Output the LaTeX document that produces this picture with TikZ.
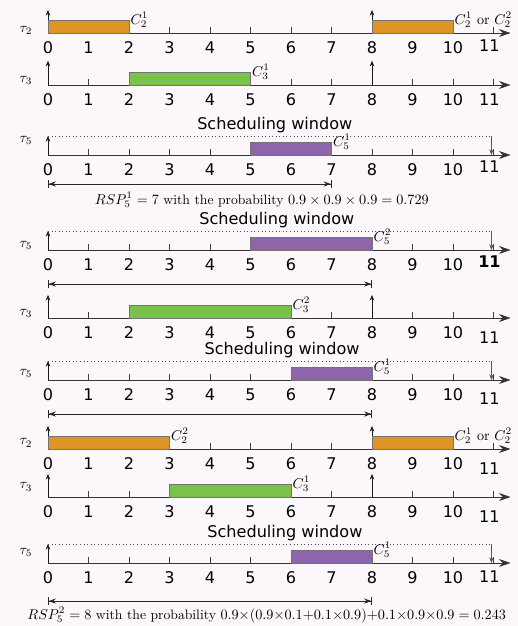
\documentclass[tikz,border=0pt]{standalone}
\usepackage{fontspec}
\newfontfamily\dejavu{DejaVu Sans}
\usetikzlibrary{arrows.meta,calc}

\definecolor{pagebg}{RGB}{252,247,251}
\definecolor{jobtwo}{RGB}{221,149,38}
\definecolor{jobthree}{RGB}{122,194,76}
\definecolor{jobfive}{RGB}{141,101,170}

\newcommand\axisfont{\fontsize{11.3}{13.6}\selectfont\dejavu}
\newcommand\mathfont{\fontsize{10}{12}\selectfont\rmfamily}
\newcommand\notefont{\fontsize{9.6}{11.5}\selectfont\rmfamily}

\tikzset{
  timeaxis/.style={-{Stealth[length=8pt,width=5.5pt]},black!80,line width=0.5pt},
  release/.style={-{Stealth[length=4pt,width=3.2pt]},black!90,line width=0.5pt},
  deadline/.style={-{Stealth[length=4pt,width=3.2pt]},black!65,line width=0.5pt},
  window/.style={dotted,black!70,line width=0.5pt},
  rsp/.style={{Bar[width=6pt]Stealth[length=5pt,width=3.6pt]}-{Stealth[length=5pt,width=3.6pt]Bar[width=6pt]},black!85,line width=0.5pt},
  job/.style={draw=black!55,line width=0.4pt},
  clabel/.style={anchor=west,inner sep=1pt,font=\mathfont},
}

\begin{document}
\begin{tikzpicture}[x=1cm,y=1cm,font=\axisfont]
  \fill[pagebg] (-1.185,0) rectangle (11.605,-15.457);
  \useasboundingbox (-1.185,0) rectangle (11.605,-15.457);

  % time lines
  \foreach \y/\row/\task/\dy/\dl/\ff in {-0.815/a/2/0.07/-0.05/\relax,-2.099/b/3/0.12/0/\relax,
      -3.827/c/5/0.37/-0.07/\relax,-6.173/d/5/0.12/-0.07/\bfseries,-7.852/e/3/0.12/0.12/\relax,
      -9.383/f/5/0.17/0.1/\relax,-11.086/g/2/0.15/0.12/\relax,-12.272/h/3/0.25/0.12/\relax,
      -13.901/i/5/0.25/-0.02/\relax}
  {
    \coordinate (\row-o) at (0,\y);
    \coordinate (\row-e) at (11.42,\y);
    \draw[timeaxis] (\row-o) -- (\row-e);
    \foreach \x in {1,...,11}
      \draw[black!75] (\x,\y) -- (\x,\y+0.14);
    \foreach \x in {0,...,10}
      \node[inner sep=1pt] (\row-n\x) at (\x,\y-0.36) {\x};
    \node[inner sep=1pt] (\row-n11) at (10.9,\y-0.36-\dl) {\ff 11};
    \node[anchor=east,inner sep=0pt,font=\mathfont] (\row-task) at (-0.38,\y+\dy) {$\tau_\task$};
  }

  % releases at 0 and 8
  \foreach \row/\h in {a/0.57,b/0.6,e/0.57,g/0.57,h/0.57}
    \foreach \x in {0,8}
      \draw[release] ($(\row-o)+(\x,0)$) -- ++(0,\h);

  % scheduling windows of tau_5
  \foreach \row/\sx in {c/5.6,d/5.65,f/5.78,i/5.85}
  {
    \coordinate (\row-w0) at ($(\row-o)+(0,0.47)$);
    \coordinate (\row-w1) at ($(\row-o)+(10.95,0.47)$);
    \coordinate (\row-dl) at ($(\row-o)+(10.95,0)$);
    \draw[release] (\row-o) -- (\row-w0);
    \draw[window] (\row-w0) -- (\row-w1);
    \draw[deadline] (\row-w1) -- (\row-dl);
    \node[anchor=south,inner sep=1pt] (\row-sw) at ($(\row-o)+(\sx,0.5)$) {Scheduling window};
  }

  % jobs
  \draw[job,fill=jobtwo] (a-o) rectangle ($(a-o)+(2,0.32)$) node[clabel] (a-c1) {$C_2^1$};
  \draw[job,fill=jobtwo] ($(a-o)+(8,0)$) rectangle ($(a-o)+(10,0.32)$) node[clabel] (a-c2) {$C_2^1$ or $C_2^2$};
  \draw[job,fill=jobthree] ($(b-o)+(2,0)$) rectangle ($(b-o)+(5,0.32)$) node[clabel] (b-c1) {$C_3^1$};
  \draw[job,fill=jobfive] ($(c-o)+(5,0)$) rectangle ($(c-o)+(7,0.32)$) node[clabel] (c-c1) {$C_5^1$};
  \draw[job,fill=jobfive] ($(d-o)+(5,0)$) rectangle ($(d-o)+(8,0.32)$) node[clabel] (d-c1) {$C_5^2$};
  \draw[job,fill=jobthree] ($(e-o)+(2,0)$) rectangle ($(e-o)+(6,0.32)$) node[clabel] (e-c1) {$C_3^2$};
  \draw[job,fill=jobfive] ($(f-o)+(6,0)$) rectangle ($(f-o)+(8,0.32)$) node[clabel] (f-c1) {$C_5^1$};
  \draw[job,fill=jobtwo] (g-o) rectangle ($(g-o)+(3,0.32)$) node[clabel] (g-c1) {$C_2^2$};
  \draw[job,fill=jobtwo] ($(g-o)+(8,0)$) rectangle ($(g-o)+(10,0.32)$) node[clabel] (g-c2) {$C_2^1$ or $C_2^2$};
  \draw[job,fill=jobthree] ($(h-o)+(3,0)$) rectangle ($(h-o)+(6,0.32)$) node[clabel] (h-c1) {$C_3^1$};
  \draw[job,fill=jobfive] ($(i-o)+(6,0)$) rectangle ($(i-o)+(8,0.32)$) node[clabel] (i-c1) {$C_5^1$};

  % response times
  \foreach \row/\dy/\t in {c/0.716/7,d/0.84/8,f/0.84/8,i/0.94/8}
  {
    \coordinate (\row-r0) at ($(\row-o)+(0,-\dy)$);
    \coordinate (\row-r1) at ($(\row-o)+(\t,-\dy)$);
    \draw[rsp] (\row-r0) -- (\row-r1);
  }

  \node[font=\notefont] (rsp1) at (5.28,-4.938)
    {$RSP_5^1 = 7$ with the probability $0.9 \times 0.9 \times 0.9 = 0.729$};
  \node[font=\notefont] (rsp2) at (5.4,-15.185)
    {$RSP_5^2 = 8$ with the probability $0.9{\times}(0.9{\times}0.1{+}0.1{\times}0.9){+}0.1{\times}0.9{\times}0.9 = 0.243$};
\end{tikzpicture}
\end{document}
